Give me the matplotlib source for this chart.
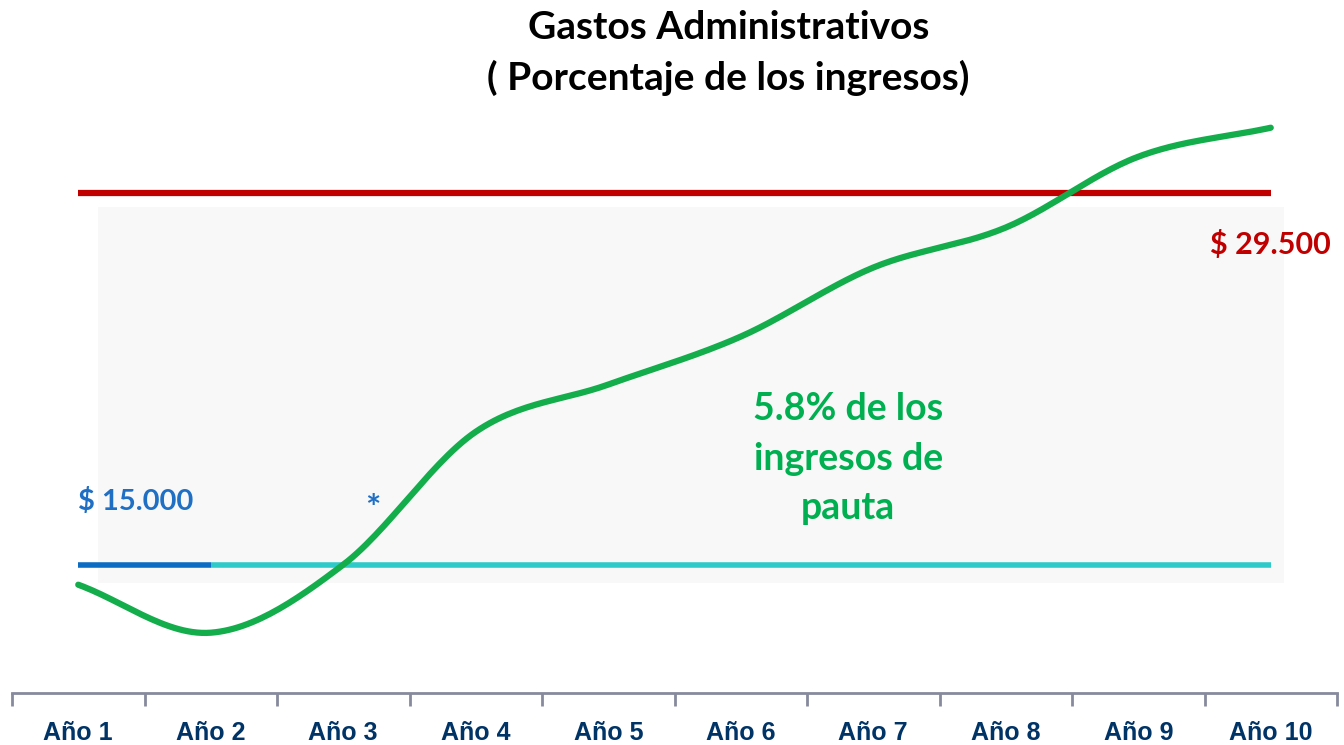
import numpy as np
import matplotlib
matplotlib.use("Agg")
import matplotlib.pyplot as plt
from matplotlib.patches import Rectangle

# datos
anios = ['Año 1', 'Año 2', 'Año 3', 'Año 4', 'Año 5', 'Año 6', 'Año 7', 'Año 8', 'Año 9', 'Año 10']
gastos = [14220, 12350, 15000, 20180, 22020, 23890, 26580, 28140, 30900, 32030]
tope = 29500
base = 15000

x = np.arange(1, len(anios) + 1)


def suavizar(xs, ys, n=30):
    # curva suavizada tipo Catmull-Rom (como la linea suavizada de Excel)
    xs = np.asarray(xs, float)
    ys = np.asarray(ys, float)
    px = np.concatenate([[2 * xs[0] - xs[1]], xs, [2 * xs[-1] - xs[-2]]])
    py = np.concatenate([[2 * ys[0] - ys[1]], ys, [2 * ys[-1] - ys[-2]]])
    ox, oy = [], []
    t = np.linspace(0, 1, n)
    for i in range(1, len(px) - 2):
        for arr, out in ((px, ox), (py, oy)):
            p0, p1, p2, p3 = arr[i - 1], arr[i], arr[i + 1], arr[i + 2]
            out.extend(0.5 * ((2 * p1) + (-p0 + p2) * t
                              + (2 * p0 - 5 * p1 + 4 * p2 - p3) * t ** 2
                              + (-p0 + 3 * p1 - 3 * p2 + p3) * t ** 3))
    return np.array(ox), np.array(oy)


fig = plt.figure(figsize=(13.44, 7.45), dpi=100)
ax = fig.add_axes([12 / 1344, 1 - 693 / 745, 1325 / 1344, (693 - 90) / 745])

ax.set_xlim(0.5, len(anios) + 0.5)
ax.set_ylim(10000, 33500)

# fondo gris muy claro
ax.add_patch(Rectangle((1.15, 14300), 8.95, 14650, facecolor='#f8f8f8', edgecolor='none', zorder=0))

# lineas horizontales
ax.plot([x[0], x[-1]], [tope, tope], color='#c00000', lw=4.5, solid_capstyle='butt', zorder=2)
ax.plot([x[1], x[-1]], [base, base], color='#2ec9c9', lw=4, solid_capstyle='butt', zorder=2)
ax.plot([x[0], x[1]], [base, base], color='#0b6cc4', lw=4, solid_capstyle='butt', zorder=2)

sx, sy = suavizar(x, gastos)
ax.plot(sx, sy, color='#13ad4b', lw=4.5, solid_capstyle='round', zorder=3)

# textos
ax.text(1.0, 17456, '$ 15.000', color='#1f6fc4', fontsize=21, fontweight='bold',
        family='Lato', ha='left', va='center')
ax.text(3.22, 17150, '*', color='#1f6fc4', fontsize=26, fontweight='bold',
        family='Lato', ha='center', va='center')
ax.text(9.54, 27474, '$ 29.500', color='#c00000', fontsize=22, fontweight='bold',
        family='Lato', ha='left', va='center', clip_on=False)
ax.text(6.81, 19132, '5.8% de los\ningresos de\npauta', color='#00b050', fontsize=27,
        fontweight='bold', family='Lato', ha='center', va='center', linespacing=1.55)

fig.text(0.542, 0.963, 'Gastos Administrativos', fontsize=28, fontweight='bold',
         family='Lato', ha='center', va='center')
fig.text(0.542, 0.895, '( Porcentaje de los ingresos)', fontsize=28, fontweight='bold',
         family='Lato', ha='center', va='center')

# ejes
for s in ['top', 'right', 'left']:
    ax.spines[s].set_visible(False)
ax.spines['bottom'].set_color('#868a9c')
ax.spines['bottom'].set_linewidth(2)
ax.set_yticks([])
ax.set_xticks(x)
ax.set_xticklabels(anios, fontsize=18, fontweight='bold', color='#003366',
                   family='Liberation Sans')
ax.tick_params(axis='x', which='major', length=0, pad=20)
ax.set_xticks(np.arange(0.5, len(anios) + 1), minor=True)
ax.tick_params(axis='x', which='minor', length=9, width=2, color='#868a9c')

fig.savefig('out.png', dpi=100)
